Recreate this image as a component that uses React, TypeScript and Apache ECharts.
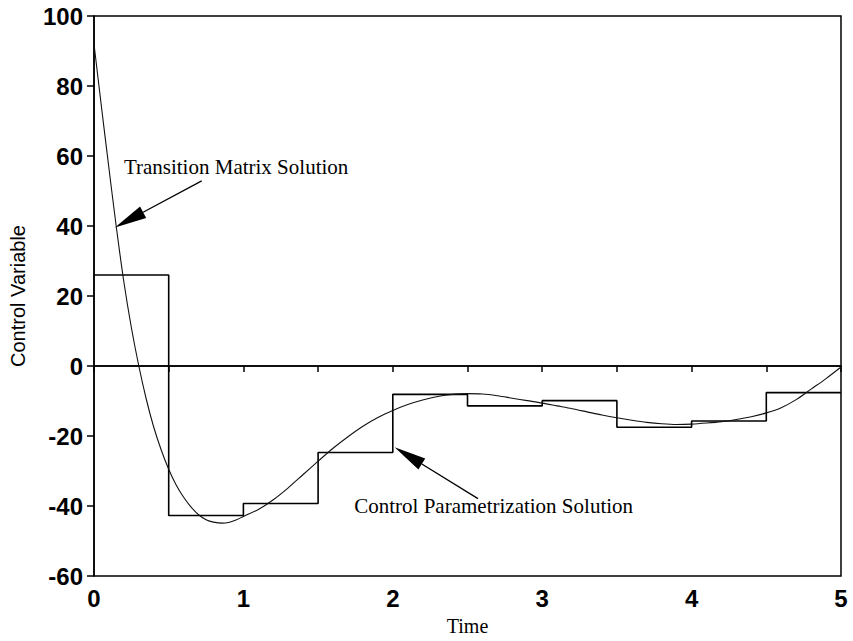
import React, { useEffect, useRef } from 'react';
import * as echarts from 'echarts';

const curveTimes = [0, 0.05, 0.1, 0.15, 0.2, 0.25, 0.3, 0.35, 0.4, 0.45, 0.5, 0.55, 0.6, 0.65, 0.7, 0.75, 0.8, 0.86, 0.9, 0.95, 1.0, 1.1, 1.2, 1.3, 1.4, 1.5, 1.6, 1.7, 1.8, 1.9, 2.0, 2.1, 2.2, 2.3, 2.4, 2.5, 2.6, 2.7, 2.8, 2.9, 3.0, 3.1, 3.2, 3.3, 3.4, 3.5, 3.6, 3.7, 3.8, 3.9, 4.0, 4.1, 4.2, 4.3, 4.4, 4.5, 4.6, 4.7, 4.8, 4.9, 5.0];
const curveValues = [92, 74, 56.5, 39.5, 24, 11, 0, -9.5, -17.5, -24, -29.5, -34, -37.5, -40.3, -42.5, -43.9, -44.6, -44.9, -44.7, -44, -43, -41, -38.2, -34.8, -31, -27.2, -23.5, -20.2, -17.2, -14.7, -12.7, -11, -9.7, -8.7, -8.1, -7.9, -8.0, -8.5, -9.2, -9.9, -10.6, -11.4, -12.2, -13.1, -14.0, -14.8, -15.5, -16.1, -16.5, -16.7, -16.6, -16.3, -15.9, -15.3, -14.5, -13.4, -11.9, -9.6, -6.6, -3.6, -0.3];

const stepTimes = [0, 0.5, 1, 1.5, 2, 2.5, 3, 3.5, 4, 4.5, 5];
const stepValues = [26, -42.7, -39.3, -24.7, -8.1, -11.4, -9.9, -17.5, -15.7, -7.6, -7.6];

const yTicks = [-60, -40, -20, 0, 20, 40, 60, 80, 100];
const xTickLabels = ['0', '1', '2', '3', '4', '5'];

const annotationTexts = ['Transition Matrix Solution', 'Control Parametrization Solution'];
const annotationTextAt = [[0.2, 56.9], [1.742, -40.1]];
const arrowFrom = [[0.721, 52.9], [2.57, -37.9]];
const arrowTip = [[0.14, 39.6], [2.012, -23.2]];

export default function App() {
  const ref = useRef<HTMLDivElement>(null);
  useEffect(() => {
    if (!ref.current) return;
    const chart = echarts.init(ref.current, undefined, { renderer: 'svg' });
    const option: any = {
      animation: false,
      backgroundColor: '#ffffff',
      grid: { left: 92, right: 12, top: 16, bottom: 61, show: true, borderColor: '#000', borderWidth: 1.5, backgroundColor: 'transparent' },
      xAxis: {
        type: 'value', min: 0, max: 5, interval: 0.5,
        name: 'Time', nameLocation: 'middle', nameGap: 40,
        nameTextStyle: { fontFamily: 'Liberation Serif', fontSize: 20, color: '#000' },
        axisLine: { lineStyle: { color: '#000', width: 1.5 } },
        axisTick: { show: true, inside: false, length: 6, lineStyle: { color: '#000', width: 1.5 } },
        axisLabel: {
          margin: 10, color: '#000', fontFamily: 'Liberation Sans', fontSize: 24, fontWeight: 'bold',
          formatter: (v: number) => (Number.isInteger(v) ? xTickLabels[v] : ''),
        },
        splitLine: { show: false },
      },
      yAxis: {
        type: 'value', min: -60, max: 100, interval: 20,
        name: 'Control Variable', nameLocation: 'middle', nameGap: 66,
        nameTextStyle: { fontFamily: 'Liberation Sans', fontSize: 20, color: '#000' },
        axisLine: { show: true, lineStyle: { color: '#000', width: 1.5 } },
        axisTick: { show: true, inside: false, length: 7, lineStyle: { color: '#000', width: 1.5 } },
        axisLabel: {
          margin: 11, color: '#000', fontFamily: 'Liberation Sans', fontSize: 24, fontWeight: 'bold',
          formatter: (v: number) => (yTicks.includes(v) ? String(v) : ''),
        },
        splitLine: { show: false },
      },
      series: [
        {
          type: 'line', name: 'zero', data: [[0, 0], [5, 0]], symbol: 'none',
          lineStyle: { color: '#000', width: 1.5 }, silent: true,
        },
        {
          type: 'line', name: 'Control Parametrization Solution',
          data: stepTimes.map((t, i) => [t, stepValues[i]]),
          step: 'end', symbol: 'none',
          lineStyle: { color: '#000', width: 1.6 },
        },
        {
          type: 'line', name: 'Transition Matrix Solution',
          data: curveTimes.map((t, i) => [t, curveValues[i]]),
          smooth: 0.3, symbol: 'none',
          lineStyle: { color: '#111', width: 1.1 },
        },
      ],
    };
    chart.setOption(option);

    const graphics: any[] = [];
    for (let i = 0; i < annotationTexts.length; i++) {
      const tp = chart.convertToPixel({ gridIndex: 0 }, annotationTextAt[i]) as number[];
      graphics.push({
        type: 'text', x: tp[0], y: tp[1],
        style: { text: annotationTexts[i], font: '21px "Liberation Serif"', fill: '#000', textVerticalAlign: 'middle', verticalAlign: 'middle' },
      });
      const a = chart.convertToPixel({ gridIndex: 0 }, arrowFrom[i]) as number[];
      const b = chart.convertToPixel({ gridIndex: 0 }, arrowTip[i]) as number[];
      const dx = a[0] - b[0];
      const dy = a[1] - b[1];
      const len = Math.sqrt(dx * dx + dy * dy);
      const ux = dx / len, uy = dy / len;
      const L = 32, W = 13;
      const bx = b[0] + ux * L, by = b[1] + uy * L;
      const nx = -uy, ny = ux;
      graphics.push({
        type: 'line',
        shape: { x1: a[0], y1: a[1], x2: bx, y2: by },
        style: { stroke: '#000', lineWidth: 1.3 },
      });
      graphics.push({
        type: 'polygon',
        shape: { points: [[b[0], b[1]], [bx + nx * W / 2, by + ny * W / 2], [bx - nx * W / 2, by - ny * W / 2]] },
        style: { fill: '#000' },
      });
    }
    chart.setOption({ graphic: graphics });
    return () => chart.dispose();
  }, []);
  return <div ref={ref} style={{ width: 853, height: 641, position: 'absolute', left: 0, top: 0 }} />;
}
